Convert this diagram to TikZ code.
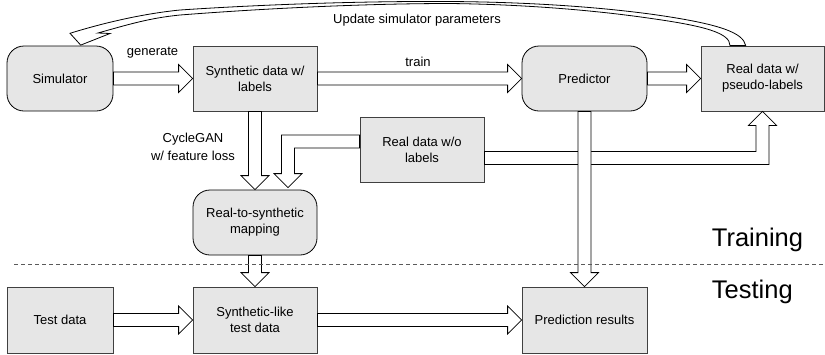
\documentclass[tikz,border=0pt]{standalone}
\usepackage{fontspec}
\setmainfont{Liberation Sans}
\usetikzlibrary{calc}

\definecolor{boxfill}{HTML}{E6E6E6}
\definecolor{boxline}{HTML}{404040}
\definecolor{divider}{HTML}{5A5A5A}

% hollow block arrow pointing right, from the east side of #1 to the west side of #2
\newcommand\rblock[2]{%
  \coordinate (rbS) at (#1.east);
  \coordinate (rbT) at (#2.west |- #1.east);
  \draw[blockarrow] ($(rbS)+(0,-6.5)$) -- ($(rbT)+(-14,-6.5)$) -- ($(rbT)+(-14,-14)$)
    -- (rbT) -- ($(rbT)+(-14,14)$) -- ($(rbT)+(-14,6.5)$) -- ($(rbS)+(0,6.5)$) -- cycle;}

% hollow block arrow pointing down, from the south side of #1 to the north side of #2
\newcommand\dblock[2]{%
  \coordinate (dbS) at (#1.south);
  \coordinate (dbT) at (#1.south |- #2.north);
  \draw[blockarrow] ($(dbS)+(-6.5,0)$) -- ($(dbT)+(-6.5,-14)$) -- ($(dbT)+(-14,-14)$)
    -- (dbT) -- ($(dbT)+(14,-14)$) -- ($(dbT)+(6.5,-14)$) -- ($(dbS)+(6.5,0)$) -- cycle;}

\begin{document}
\begin{tikzpicture}[x=1pt,y=-1pt,
  every node/.style={font=\fontsize{13}{16}\selectfont, align=center, inner sep=0pt},
  databox/.style={draw=boxline, line width=0.8pt, fill=boxfill, rectangle},
  procbox/.style={draw=black, line width=0.8pt, fill=boxfill, rectangle, rounded corners=17pt},
  blockarrow/.style={draw=black, fill=white, line width=0.8pt, line join=miter},
  phase/.style={font=\fontsize{25.5}{30}\selectfont, anchor=base west}]

\useasboundingbox (0,0) rectangle (825,354);

% boxes
\node[procbox, minimum width=106pt, minimum height=65pt] (sim) at (60,78.5) {Simulator};
\node[databox, minimum width=124pt, minimum height=65pt] (syn) at (255,78.5) {Synthetic data w/\\labels};
\node[procbox, minimum width=125pt, minimum height=65pt] (pred) at (584.5,78.5) {Predictor};
\node[databox, minimum width=123pt, minimum height=65pt] (pseudo) at (762.5,78.5) {Real data w/\\pseudo-labels};
\node[databox, minimum width=124pt, minimum height=65pt] (realwo) at (422,149.5) {Real data w/o\\labels};
\node[procbox, minimum width=124pt, minimum height=65pt] (map) at (255,222.5) {Real-to-synthetic\\mapping};
\node[databox, minimum width=106pt, minimum height=66pt] (test) at (60,320) {Test data};
\node[databox, minimum width=124pt, minimum height=66pt] (synlike) at (255,320) {Synthetic-like\\test data};
\node[databox, minimum width=125pt, minimum height=66pt] (predres) at (584.5,320) {Prediction results};

% straight connectors
\rblock{sim}{syn}
\rblock{syn}{pred}
\rblock{pred}{pseudo}
\dblock{syn}{map}
\dblock{map}{synlike}
\rblock{test}{synlike}
\rblock{synlike}{predres}

% unlabelled real data into the mapping
\coordinate (elA) at ($(realwo.west)+(0,-8)$);
\coordinate (elB) at ($(map.north)+(33,-2)$);
\coordinate (elC) at (elA -| elB);
\draw[blockarrow] ($(elA)+(0,-6.5)$) -- ($(elC)+(-6.5,-6.5)$) -- ($(elB)+(-6.5,-14)$)
  -- ($(elB)+(-14,-14)$) -- (elB) -- ($(elB)+(14,-14)$) -- ($(elB)+(6.5,-14)$)
  -- ($(elC)+(6.5,6.5)$) -- ($(elA)+(0,6.5)$) -- cycle;

% unlabelled real data up to the pseudo-labelled set
\coordinate (elD) at ($(realwo.east)+(0,8.5)$);
\coordinate (elE) at (pseudo.south);
\coordinate (elF) at (elD -| elE);
\draw[blockarrow] ($(elD)+(0,-6.5)$) -- ($(elF)+(-6.5,-6.5)$) -- ($(elE)+(-6.5,14)$)
  -- ($(elE)+(-14,14)$) -- (elE) -- ($(elE)+(14,14)$) -- ($(elE)+(6.5,14)$)
  -- ($(elF)+(6.5,6.5)$) -- ($(elD)+(0,6.5)$) -- cycle;

% predictor down to the results, crossing over the line above
\dblock{pred}{predres}

% feedback loop to the simulator
\draw[blockarrow]
  ($(pseudo.north)+(-16.8,0)$) .. controls (743,33) and (722,24) .. (650,14)
  .. controls (590,6) and (520,2) .. (450,1.5)
  .. controls (370,1) and (270,4) .. (180,10)
  .. controls (140,14) and (100,24) .. (70,33.3)
  -- ($(sim.north)+(20.7,-0.5)$) -- (110,33.5) -- (98,33)
  .. controls (130,24) and (150,18) .. (180,15)
  .. controls (270,8) and (370,3.5) .. (450,3.5)
  .. controls (530,4.5) and (600,11) .. (650,18.3)
  .. controls (705,26) and (730,33) .. ($(pseudo.north)+(-32.5,0)$) -- cycle;

% labels
\node (lblgen) at (152.5,53) {generate};
\node (lbltrain) at (418,62) {train};
\node[font=\fontsize{13}{18}\selectfont] (lblgan) at (193,147) {CycleGAN\\w/ feature loss};
\node (lblupd) at (417,20) {Update simulator parameters};

% phase divider
\draw[divider, line width=0.8pt, dash pattern=on 4pt off 3pt] (14,264) -- (825,264);
\node[phase] (train) at (711.7,246.5) {Training};
\node[phase] (testing) at (711.7,298.3) {Testing};
\end{tikzpicture}
\end{document}
